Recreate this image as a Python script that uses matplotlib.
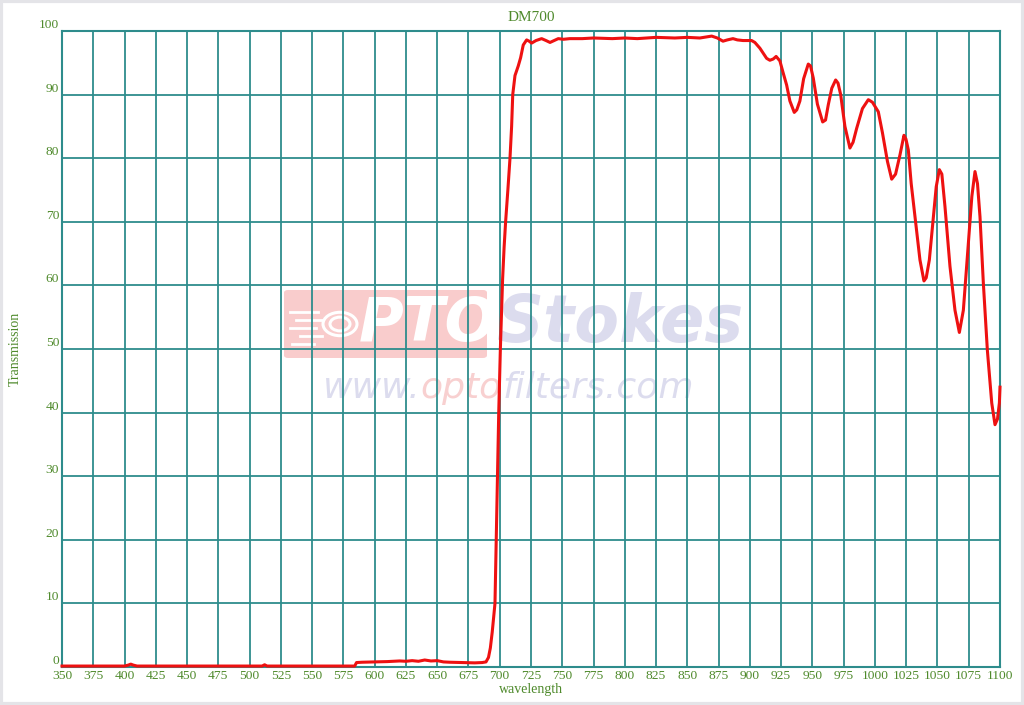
import matplotlib
matplotlib.use("Agg")
import matplotlib.pyplot as plt
from matplotlib.patches import FancyBboxPatch, Circle, Rectangle

# ---------------- data ----------------
wavelength = [350, 380, 400, 403, 405, 407, 410, 450, 500, 510, 512, 514, 520, 560, 584,
              585.5, 590, 600, 610, 620, 625, 630, 635, 640, 645, 650, 655, 660, 670, 680,
              686, 689, 691, 692.5, 694, 695, 696.2, 697.2, 698.2, 699.2, 700.5, 701.6, 702.3,
              703.5, 704.7, 706.5, 708.2, 709.5, 710.4, 712.2, 714.8, 716.7, 718.8, 721.5,
              723.5, 725.5, 729, 733.5, 737, 740.2, 743.5, 746.8, 751, 756, 766, 775, 790,
              800, 810, 825, 840, 850, 860, 869.5, 874, 878.5, 882, 886.5, 890, 894.5, 901.4,
              904, 908, 911, 913.4, 916, 918.7, 921, 924, 926.5, 929.4, 932, 935.5, 937.5,
              940, 943, 946.7, 948.5, 950.7, 954, 958.2, 960.5, 962.7, 965.5, 968.6, 970.5,
              972.6, 976, 980, 982.5, 985.4, 990, 994.7, 998, 1002.7, 1006, 1010, 1013.4,
              1016.5, 1020, 1023.2, 1024.8, 1026.7, 1029, 1032, 1036, 1039.2, 1041, 1043.5,
              1046.7, 1049, 1051.5, 1053.5, 1056, 1060, 1064, 1067.5, 1070.7, 1074.7, 1077.5,
              1080, 1082, 1084, 1086.7, 1089.9, 1093.4, 1096, 1098, 1099.5, 1100]
transmission = [0.15, 0.15, 0.15, 0.3, 0.45, 0.3, 0.15, 0.15, 0.15, 0.15, 0.35, 0.15, 0.15, 0.15, 0.15,
                0.7, 0.75, 0.8, 0.85, 0.95, 0.9, 1.0, 0.9, 1.1, 0.95, 1.0, 0.8, 0.75, 0.7, 0.65,
                0.7, 0.8, 1.5, 3, 5.5, 7.5, 10, 20, 30, 40, 50, 57, 61,
                66, 70, 75, 80, 85, 90, 93, 94.5, 95.8, 97.8, 98.6,
                98.4, 98.1, 98.5, 98.8, 98.5, 98.2, 98.5, 98.8, 98.7, 98.8, 98.8, 98.9, 98.8,
                98.9, 98.8, 99.0, 98.9, 99.0, 98.9, 99.2, 98.9, 98.4, 98.6, 98.8, 98.6, 98.5, 98.5,
                98.2, 97.3, 96.4, 95.7, 95.4, 95.6, 96.0, 95.3, 93.5, 91.5, 89.0, 87.2, 87.6,
                89.0, 92.5, 94.8, 94.5, 92.6, 88.5, 85.7, 86.0, 88.4, 91.0, 92.3, 91.8,
                90.0, 85.0, 81.6, 82.5, 84.7, 87.8, 89.2, 88.8, 87.3, 84.0, 79.5, 76.7,
                77.5, 80.5, 83.6, 83.0, 81.3, 76.0, 70.8, 64.0, 60.7, 61.2, 64.0,
                70.8, 75.5, 78.2, 77.5, 72.4, 63.0, 56.1, 52.6, 56.1, 66.6, 74.0,
                77.9, 76.0, 70.8, 60.3, 49.8, 41.5, 38.1, 39.0, 41.5, 44.0]

x_ticks = list(range(350, 1101, 25))
y_ticks = list(range(0, 101, 10))
title = "DM700"
x_label = "wavelength"
y_label = "Transmission"

# ---------------- style ----------------
GRID = "#2e8c8c"
TXT = "#4f8a2c"
RED = "#ee1111"
SERIF = ["Liberation Serif", "DejaVu Serif"]

fig = plt.figure(figsize=(10.24, 7.05), dpi=100)
fig.patch.set_facecolor("white")
ax = fig.add_axes([62 / 1024, 1 - 667 / 705, 938 / 1024, 636 / 705])
ax.set_xlim(350, 1100)
ax.set_ylim(0, 100)
ax.set_xticks(x_ticks)
ax.set_yticks(y_ticks)
ax.set_xticklabels([str(v) for v in x_ticks], fontfamily=SERIF, fontsize=9.7, color=TXT)
ax.set_yticklabels([str(v) for v in y_ticks], fontfamily=SERIF, fontsize=9.7, color=TXT,
                   va="bottom")
ax.tick_params(length=0, pad=2)
ax.tick_params(axis="y", pad=2)
ax.set_axisbelow("line")
ax.grid(True, color=GRID, linewidth=1.3)
for s in ax.spines.values():
    s.set_color(GRID)
    s.set_linewidth(1.5)

ax.set_title(title, fontfamily=SERIF, fontsize=11, color=TXT, pad=7)
ax.set_xlabel(x_label, fontfamily=SERIF, fontsize=10, color=TXT, labelpad=1)
ax.set_ylabel(y_label, fontfamily=SERIF, fontsize=10, color=TXT, labelpad=12)

# ---------------- watermark (figure pixel coords) ----------------
def fx(px):
    return px / 1024

def fy(py):
    return 1 - py / 705

ft = fig.transFigure
ax.add_patch(FancyBboxPatch((fx(284), fy(358)), fx(487) - fx(284), fy(290) - fy(358),
                            boxstyle="round,pad=0,rounding_size=0.004",
                            transform=ft, facecolor="#f9cccc", edgecolor="none",
                            zorder=1, clip_on=False))
for cx, r in [(340, 17), (340, 10)]:
    ax.add_patch(Circle((fx(cx), fy(324)), r / 1024, transform=ft, facecolor="none",
                        edgecolor="white", linewidth=2.2, zorder=1.1, clip_on=False))
for (x0, x1, yy) in [(290, 318, 312), (296, 322, 320), (290, 316, 328), (300, 322, 336), (292, 314, 344)]:
    ax.plot([fx(x0), fx(x1)], [fy(yy), fy(yy)], transform=ft, color="white",
            linewidth=2, zorder=1.1, clip_on=False)
ax.text(fx(428), fy(324), "PTO", transform=ft, fontsize=44, fontweight="bold",
        fontstyle="italic", fontfamily="DejaVu Sans", color="white",
        ha="center", va="center", zorder=1.1)
ax.text(fx(620), fy(324), "Stokes", transform=ft, fontsize=47, fontweight="bold",
        fontstyle="italic", fontfamily="DejaVu Sans", color="#dcdcee",
        ha="center", va="center", zorder=1.1)
ax.text(fx(323), fy(388), "www.", transform=ft, fontsize=26, fontstyle="italic",
        fontfamily="DejaVu Sans", color="#dcdcee", ha="left", va="center", zorder=1.1)
ax.text(fx(420), fy(388), "opto", transform=ft, fontsize=26, fontstyle="italic",
        fontfamily="DejaVu Sans", color="#f8d0d0", ha="left", va="center", zorder=1.1)
ax.text(fx(503), fy(388), "filters.com", transform=ft, fontsize=26, fontstyle="italic",
        fontfamily="DejaVu Sans", color="#dcdcee", ha="left", va="center", zorder=1.1)

# ---------------- curve ----------------
ax.plot(wavelength, transmission, color=RED, linewidth=2.2, zorder=3,
        solid_joinstyle="round", clip_on=False)

# light frame around picture
fig.add_artist(Rectangle((0.001, 0.001), 0.998, 0.998, transform=fig.transFigure,
                         facecolor="none", edgecolor="#e4e4e8", linewidth=3))

fig.savefig("out.png", dpi=100)
